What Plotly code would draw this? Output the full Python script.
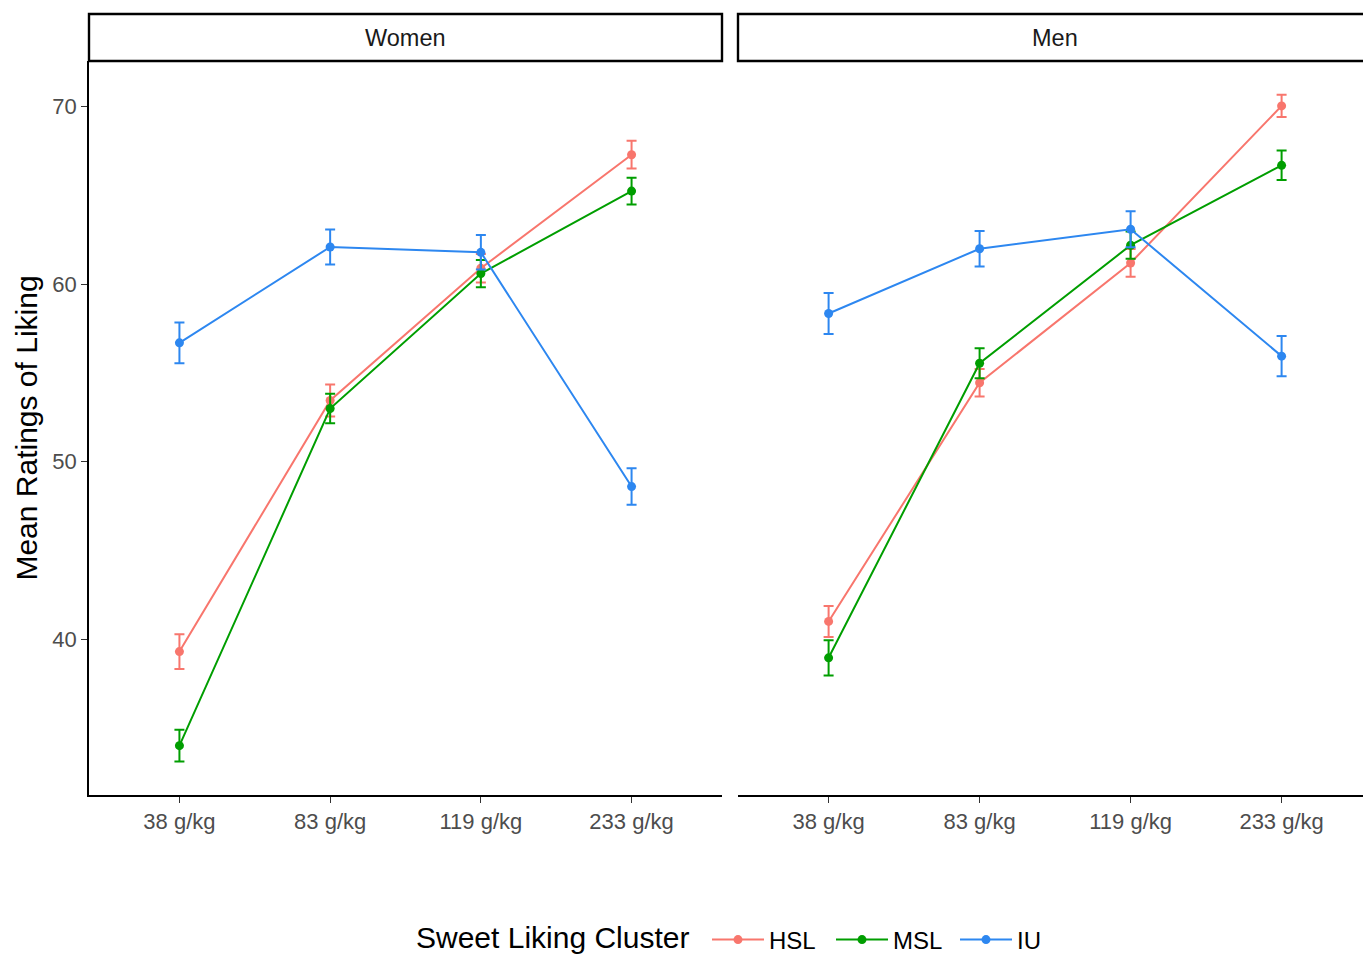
import plotly.graph_objects as go

categories = ["38 g/kg", "83 g/kg", "119 g/kg", "233 g/kg"]
clusters = ["HSL", "MSL", "IU"]
colors = {"HSL": "#F8766D", "MSL": "#009E00", "IU": "#2D87F0"}

women_mean = {
    "HSL": [39.3, 53.45, 60.9, 67.3],
    "MSL": [34.0, 53.0, 60.6, 65.25],
    "IU":  [56.7, 62.1, 61.8, 48.6],
}
women_se = {
    "HSL": [0.98, 0.9, 0.8, 0.78],
    "MSL": [0.89, 0.83, 0.77, 0.75],
    "IU":  [1.15, 0.99, 0.97, 1.03],
}
men_mean = {
    "HSL": [41.0, 54.45, 61.2, 70.05],
    "MSL": [38.95, 55.55, 62.2, 66.7],
    "IU":  [58.35, 62.0, 63.1, 55.95],
}
men_se = {
    "HSL": [0.87, 0.78, 0.78, 0.63],
    "MSL": [0.99, 0.85, 0.77, 0.83],
    "IU":  [1.16, 1.0, 1.02, 1.13],
}
panels = ["Women", "Men"]
legend_title = "Sweet Liking Cluster"

fig = go.Figure()
for i, (means, ses) in enumerate([(women_mean, women_se), (men_mean, men_se)]):
    xa = "x" if i == 0 else "x2"
    for c in clusters:
        fig.add_trace(go.Scatter(
            x=categories, y=means[c], name=c, mode="lines+markers",
            xaxis=xa, yaxis="y",
            line=dict(color=colors[c], width=2),
            marker=dict(color=colors[c], size=9),
            error_y=dict(type="data", array=ses[c], color=colors[c],
                         thickness=2, width=5),
            showlegend=(i == 0), legendgroup=c,
        ))

W, H = 1363, 955
L, R, T, B = 89, 0, 61, 160
pw = W - L - R
ph = H - T - B
left_dom = [0, (722 - L) / pw]
right_dom = [(738 - L) / pw, 1]
right_span = (1363 - 738) / 151.0

FONT = "Liberation Sans, Arial, sans-serif"
tickfont = dict(family=FONT, size=22, color="#4D4D4D")
axis_common = dict(showline=True, linecolor="black", linewidth=1.5, ticks="outside",
                   ticklen=6, tickcolor="#333333", tickwidth=1.4, showgrid=False,
                   zeroline=False, tickfont=tickfont)

fig.update_layout(
    width=W, height=H,
    margin=dict(l=L, r=R, t=T, b=B, autoexpand=False),
    plot_bgcolor="white", paper_bgcolor="white",
    font=dict(family=FONT, color="black"),
    xaxis=dict(domain=left_dom, type="category", categoryorder="array",
               categoryarray=categories, range=[-0.6, 3.6], **axis_common),
    xaxis2=dict(domain=right_dom, type="category", categoryorder="array",
                categoryarray=categories, range=[-0.6, -0.6 + right_span],
                anchor="y", **axis_common),
    yaxis=dict(range=[31.22, 72.58], tickvals=[40, 50, 60, 70],
               title=dict(text="Mean Ratings of Liking",
                          font=dict(size=30, color="black"), standoff=6),
               **axis_common),
    legend=dict(orientation="h", x=(707 - L) / pw, xanchor="left",
                y=-(940 - 795) / ph, yanchor="middle",
                font=dict(size=24, color="black"), itemwidth=52,
                entrywidth=57, entrywidthmode="pixels", tracegroupgap=0),
)

fig.add_annotation(text=legend_title, xref="paper", yref="paper",
                   x=(691 - L) / pw, y=-(937 - 795) / ph,
                   xanchor="right", yanchor="middle", showarrow=False,
                   font=dict(size=30, color="black"))

strip_top = 1 + (61 - 14) / ph
for i, name in enumerate(panels):
    dom = left_dom if i == 0 else right_dom
    x1 = dom[1] if i == 0 else 1.01
    fig.add_shape(type="rect", xref="paper", yref="paper",
                  x0=dom[0], x1=x1, y0=1, y1=strip_top,
                  line=dict(color="black", width=2.4), fillcolor="white")
    cx = (dom[0] + dom[1]) / 2 if i == 0 else (dom[0] + ((738 + 634 - L) / pw)) / 2
    fig.add_annotation(text=name, xref="paper", yref="paper", x=cx,
                       y=(1 + strip_top) / 2, xanchor="center", yanchor="middle",
                       showarrow=False, font=dict(size=23.5, color="#1A1A1A"))

fig.write_html("out.html", config={"displayModeBar": False},
               post_script="document.body.style.margin='0px';document.body.style.overflow='hidden';")
